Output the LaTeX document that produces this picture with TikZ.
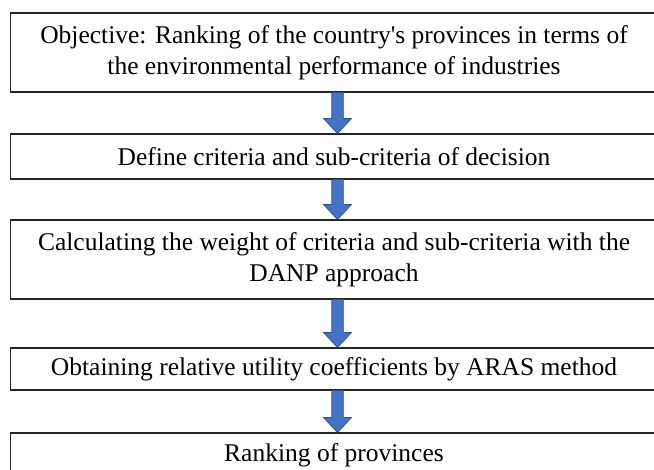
\documentclass[tikz,border=0pt]{standalone}
\usepackage{fontspec}
\setmainfont{Liberation Serif}
\usetikzlibrary{calc}
\definecolor{arrowblue}{HTML}{4472C4}
\definecolor{arrowedge}{HTML}{2F528F}
\tikzset{
	stepbox/.style={draw=black!85, line width=1.1pt, minimum width=647pt, inner sep=0pt, align=center, font=\fontsize{25.5}{30.8}\selectfont},
	flowarrow/.style={fill=arrowblue, draw=arrowedge, line width=0.8pt, line join=miter}
}
\begin{document}
\begin{tikzpicture}[x=1pt, y=1pt]
	\useasboundingbox (0, 0) rectangle (654, 470);
	\clip (0, 0) rectangle (654, 470);
	
	\node [stepbox, minimum height=79pt] (obj) at (334, 417.5) {Objective: Ranking of the country\textquotesingle s provinces in terms of\\the environmental performance of industries};
	\node [stepbox, minimum height=45pt] (crit) at (334, 313.5) {Define criteria and sub-criteria of decision};
	\node [stepbox, minimum height=79pt] (danp) at (334, 210.5) {Calculating the weight of criteria and sub-criteria with the\\DANP approach};
	\node [stepbox, minimum height=42pt] (aras) at (334, 101) {Obtaining relative utility coefficients by ARAS method};
	\node [stepbox, minimum height=44pt] (rank) at (334, 15) {Ranking of provinces};
	
	\foreach \a/\b in {obj/crit, crit/danp, danp/aras, aras/rank} {
		\draw [flowarrow] ($(\a.south)+(-2.25, 0)$) -- ($(\b.north)+(-2.25, 15)$) -- ($(\b.north)+(-10.5, 15)$)
			-- ($(\b.north)+(3.5, 0)$) -- ($(\b.north)+(17.5, 15)$) -- ($(\b.north)+(9.25, 15)$)
			-- ($(\a.south)+(9.25, 0)$) -- cycle;
	}
\end{tikzpicture}
\end{document}
